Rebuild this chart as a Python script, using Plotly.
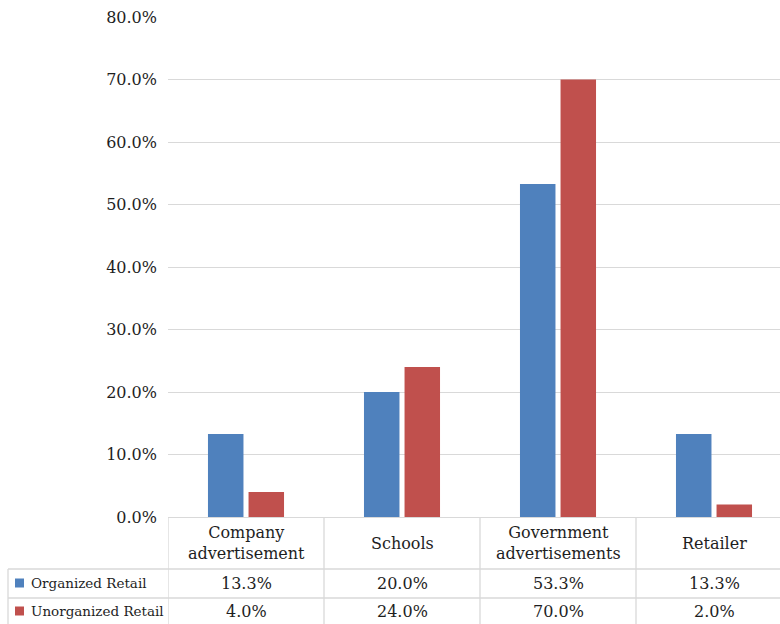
import plotly.graph_objects as go

categories = ["Company<br>advertisement", "Schools", "Government<br>advertisements", "Retailer"]
series_names = ["Organized Retail", "Unorganized Retail"]
organized = [13.3, 20.0, 53.3, 13.3]
unorganized = [4.0, 24.0, 70.0, 2.0]
colors = ["#4F81BD", "#C0504D"]
y_ticks = [0, 10, 20, 30, 40, 50, 60, 70, 80]

W, H = 780, 624
FONT = "DejaVu Serif"
GRID = "#d9d9d9"
TXT = "#1e1e1e"

def py(p):  # pixel y -> paper
    return 1 - p / H

def px(p):
    return p / W

x_idx = list(range(len(categories)))
fig = go.Figure()
for name, vals, col in zip(series_names, [organized, unorganized], colors):
    fig.add_trace(go.Bar(x=x_idx, y=vals, name=name, marker=dict(color=col, line=dict(width=0)),
                         showlegend=False, hoverinfo="skip"))

shapes = []
annotations = []
# table vertical lines between categories
for b in [-0.5 + i for i in range(len(categories))]:
    shapes.append(dict(type="line", xref="x", yref="paper", x0=b, x1=b, y0=py(517), y1=0,
                       line=dict(color=GRID, width=1.3)))
# left border of series rows
shapes.append(dict(type="line", xref="paper", yref="paper", x0=px(8), x1=px(8), y0=py(569), y1=0,
                   line=dict(color=GRID, width=1.3)))
# horizontal row lines
for yy in [569, 598]:
    shapes.append(dict(type="line", xref="paper", yref="paper", x0=px(8), x1=1, y0=py(yy), y1=py(yy),
                       line=dict(color=GRID, width=1.3)))

# header cells
for i, c in enumerate(categories):
    annotations.append(dict(x=i, xref="x", y=py(543), yref="paper", text=c, showarrow=False,
                            xanchor="center", yanchor="middle",
                            font=dict(family=FONT, size=16, color=TXT)))
# value rows
row_y = [583, 611]
for r, (name, vals, col) in enumerate(zip(series_names, [organized, unorganized], colors)):
    yc = row_y[r]
    shapes.append(dict(type="rect", xref="paper", yref="paper", x0=px(15), x1=px(24),
                       y0=py(yc - 4.5), y1=py(yc + 4.5), fillcolor=col, line=dict(width=0)))
    annotations.append(dict(x=px(29), xref="paper", y=py(yc), yref="paper", text=name, showarrow=False,
                            xanchor="left", yanchor="middle",
                            font=dict(family=FONT, size=13.5, color=TXT)))
    for i, v in enumerate(vals):
        annotations.append(dict(x=i, xref="x", y=py(yc), yref="paper", text=f"{v:.1f}%", showarrow=False,
                                xanchor="center", yanchor="middle",
                                font=dict(family=FONT, size=16, color=TXT)))

fig.update_layout(
    width=W, height=H,
    margin=dict(l=0, r=0, t=0, b=0, autoexpand=False),
    paper_bgcolor="white", plot_bgcolor="white",
    barmode="group", bargap=0.48, bargroupgap=0.125,
    xaxis=dict(domain=[px(168), 1], range=[-0.5, -0.5 + (780 - 168) / 156.0],
               showticklabels=False, ticks="", showgrid=False, zeroline=False, automargin=False,
               showline=True, linecolor=GRID, linewidth=1.3),
    yaxis=dict(domain=[py(517), py(17)], range=[0, 80], tickvals=y_ticks, automargin=False,
               ticktext=[f"{t:.1f}%" for t in y_ticks], showgrid=True, gridcolor=GRID, gridwidth=1,
               zeroline=False, showline=False, ticks="", ticklabelstandoff=10,
               tickfont=dict(family=FONT, size=16, color=TXT)),
    shapes=shapes, annotations=annotations,
)

fig.write_html("out.html", config={"displayModeBar": False},
               post_script="document.body.style.margin='0';document.body.style.padding='0';"
                           "document.body.style.overflow='hidden';"
                           "document.documentElement.style.overflow='hidden';")
